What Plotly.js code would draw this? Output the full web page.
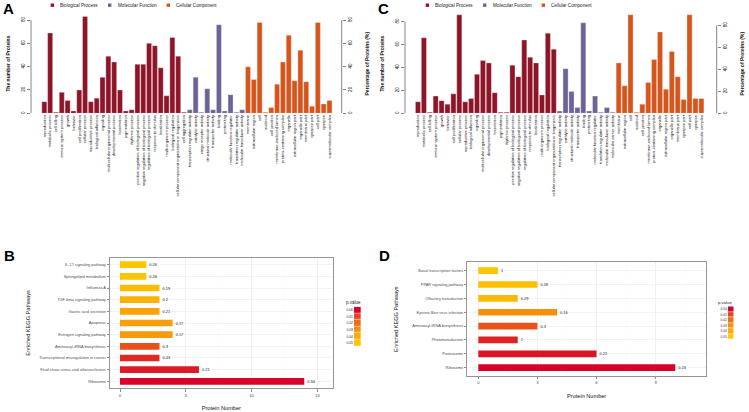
<!DOCTYPE html>
<html><head><meta charset="utf-8">
<script src="https://cdn.plot.ly/plotly-3.0.1.min.js"></script>
<style>html,body{margin:0;padding:0;background:#fff;}#chart{width:749px;height:412px;}</style>
</head><body><div id="chart"></div>
<script>
// ---------------- Panel A : GO classification ----------------
const aBPCats = ['reproduction','metabolic process','cell killing','immune system process','growth','behavior','cell proliferation','cellular process','reproductive process','biological adhesion','signaling','multicellular organismal process','developmental process','locomotion','pigmentation','rhythmic process','positive regulation of biological process','negative regulation of biological process','regulation of biological process','response to stimulus','localization','multi-organism process','biological regulation','cellular component organization or biogenesis','cell aggregation'];
const aBPVals = [10,69,1,18,11,2,20,83,10,13,31,49,44,20,2,3,42,42,60,58,39,15,65,49,1];
const aMFCats = ['transcription regulator activity','catalytic activity','cargo receptor activity','structural molecule activity','transporter activity','binding','protein tag','molecular function regulator','translation regulator activity','molecular transducer activity'];
const aMFVals = [3,31,1,21,3,76,2,16,1,3];
const aCCCats = ['membrane','extracellular region','cell','nucleoid','cell junction','membrane-enclosed lumen','protein-containing complex','organelle','extracellular region part','organelle part','membrane part','synapse part','cell part','synapse','supramolecular complex'];
const aCCVals = [40,29,78,1,5,25,44,67,28,54,27,6,78,8,11];

// ---------------- Panel C : GO classification ----------------
const cBPCats = ['reproduction','metabolic process','cell killing','immune system process','growth','behavior','cell proliferation','cellular process','reproductive process','biological adhesion','signaling','multicellular organismal process','developmental process','locomotion','pigmentation','rhythmic process','positive regulation of biological process','negative regulation of biological process','regulation of biological process','response to stimulus','localization','multi-organism process','biological regulation','cellular component organization or biogenesis'];
const cBPVals = [10,66,1,15,11,8,17,86,10,13,34,46,44,18,1,1,42,32,64,49,44,16,70,56];
const cMFCats = ['transcription regulator activity','catalytic activity','structural molecule activity','transporter activity','binding','protein tag','molecular function regulator','translation regulator activity','molecular transducer activity','molecular carrier activity'];
const cMFVals = [2,39,19,5,79,2,15,1,5,1];
const cCCCats = ['membrane','extracellular region','cell','nucleoid','cell junction','membrane-enclosed lumen','protein-containing complex','organelle','extracellular region part','organelle part','membrane part','synapse part','cell part','synapse','supramolecular complex'];
const cCCVals = [44,24,86,1,8,27,47,71,21,54,32,12,86,13,13];

const goGroups = ['Biological Process','Molecular Function','Cellular Component'];
const goTicks = [0,20,40,60,80];

// ---------------- Panel B : KEGG ----------------
const bPaths = ['IL-17 signaling pathway','Sphingolipid metabolism','Influenza A','TGF-beta signaling pathway','Gastric acid secretion','Apoptosis','Estrogen signaling pathway','Aminoacyl-tRNA biosynthesis','Transcriptional misregulation in cancer','Fluid shear stress and atherosclerosis','Ribosome'];
const bCounts = [2,2,3,3,3,4,4,3,3,6,14];
const bLabels = ['0.26','0.28','0.19','0.2','0.21','0.17','0.17','0.3','0.43','0.21','0.34'];
const bPvals = [0.049,0.049,0.046,0.042,0.037,0.035,0.033,0.013,0.006,0.004,0.0005];

// ---------------- Panel D : KEGG ----------------
const dPaths = ['Basal transcription factors','PPAR signaling pathway','Olfactory transduction','Epstein-Barr virus infection','Aminoacyl-tRNA biosynthesis','Phototransduction','Proteasome','Ribosome'];
const dCounts = [1,3,2,4,3,2,6,10];
const dLabels = ['1','0.18','0.29','0.16','0.3','1','0.22','0.24'];
const dPvals = [0.049,0.047,0.045,0.03,0.014,0.005,0.003,0.0005];

const pKeyVals = [0,0.01,0.02,0.03,0.04,0.05];
const pKeyLabels = ['0.00','0.01','0.02','0.03','0.04','0.05'];

// ---------------- styling ----------------
const W = 749, H = 412;
const px = v => v / W;
const py = v => 1 - v / H;
const FONT = 'Liberation Sans, Arial, Helvetica, sans-serif';
const COL = {bp:'#8C1529', mf:'#6B6498', cc:'#D4561D'};
const goColors = [COL.bp, COL.mf, COL.cc];
const CS = [[0,'#D6002B'],[0.2,'#E6441E'],[0.4,'#F06D15'],[0.6,'#F5900D'],[0.8,'#F9AD06'],[1,'#FCC600']];

function goBar(cats, vals, color, xa, ya, name){
  return {type:'bar', name:name, x:cats, y:vals, xaxis:xa, yaxis:ya, width:0.86,
    marker:{color:color, line:{color:'rgba(255,235,235,0.55)', width:0.6}},
    showlegend:false, hoverinfo:'skip'};
}
function dummy(xa, ya){
  return {type:'scatter', mode:'markers', x:[], y:[], xaxis:xa, yaxis:ya, showlegend:false, hoverinfo:'skip'};
}
function keggBar(paths, counts, labels, pv, xa, ya, w){
  return {type:'bar', orientation:'h', y:paths, x:counts, xaxis:xa, yaxis:ya, width:w,
    marker:{color:pv, colorscale:CS, cmin:0, cmax:0.05, showscale:false},
    text:labels, textposition:'outside', constraintext:'none', cliponaxis:false,
    textfont:{size:3.9, color:'#222', family:FONT}, showlegend:false, hoverinfo:'skip'};
}
function keyMap(xa, ya){
  return {type:'heatmap', z:pKeyVals.map(v=>[v]), x:['p'], y:pKeyLabels, xaxis:xa, yaxis:ya,
    colorscale:CS, zmin:0, zmax:0.05, showscale:false, ygap:0.6, hoverinfo:'skip'};
}

const traces = [
  goBar(aBPCats, aBPVals, COL.bp, 'x', 'y', goGroups[0]),
  goBar(aMFCats, aMFVals, COL.mf, 'x', 'y', goGroups[1]),
  goBar(aCCCats, aCCVals, COL.cc, 'x', 'y', goGroups[2]),
  dummy('x','y2'),
  goBar(cBPCats, cBPVals, COL.bp, 'x3', 'y3', goGroups[0]),
  goBar(cMFCats, cMFVals, COL.mf, 'x3', 'y3', goGroups[1]),
  goBar(cCCCats, cCCVals, COL.cc, 'x3', 'y3', goGroups[2]),
  dummy('x3','y4'),
  keggBar(bPaths, bCounts, bLabels, bPvals, 'x5', 'y5', 0.57),
  keggBar(dPaths, dCounts, dLabels, dPvals, 'x6', 'y6', 0.48),
  keyMap('x7','y7'),
  keyMap('x8','y8')
];

function goX(d0, d1, r, cats, ya){
  return {domain:[px(d0), px(d1)], anchor:ya, type:'category', categoryorder:'array', categoryarray:cats,
    range:r, showgrid:false, zeroline:false, showline:false, ticks:'', tickangle:-90,
    tickfont:{size:4, color:'#111', family:FONT}, fixedrange:true};
}
function goY(xa, r, titleText, side, over, so){
  const o = {domain:[py(113.3), py(14)], anchor:xa, type:'linear', range:r, tickvals:goTicks,
    ticks:'outside', ticklen:3.5, tickwidth:0.6, tickcolor:'#333', tickangle:-90,
    tickfont:{size:4.6, color:'#111', family:FONT}, showgrid:false, zeroline:false, showline:false,
    title:{text:'<b>'+titleText+'</b>', font:{size:5, color:'#111', family:FONT}, standoff:so}, side:side};
  if (over) o.overlaying = over;
  return o;
}
const catsA = aBPCats.concat(aMFCats, aCCCats);
const catsC = cBPCats.concat(cMFCats, cCCCats);

function keggX(d0, d1, r, tv, ya, minorD){
  return {domain:[px(d0), px(d1)], anchor:ya, range:r, tickvals:tv, ticks:'outside', ticklen:2.5, tickwidth:0.6,
    tickcolor:'#444', tickfont:{size:4.2, color:'#4D4D4D', family:FONT}, showgrid:true, gridcolor:'#EBEBEB', gridwidth:0.6,
    minor:{showgrid:true, gridcolor:'#F4F4F4', gridwidth:0.4, dtick:minorD, tick0:0},
    zeroline:false, showline:true, mirror:true, linecolor:'#8A8A8A', linewidth:0.9,
    title:{text:'Protein Number', font:{size:5.6, color:'#111', family:FONT}, standoff:9}};
}
function keggY(d0, d1, n, xa, so){
  return {domain:[py(d1), py(d0)], anchor:xa, type:'category', range:[n-1+0.6, -0.6], ticks:'outside', ticklen:2.5,
    tickwidth:0.6, tickcolor:'#444', tickfont:{size:3.9, color:'#4D4D4D', family:FONT}, showgrid:true, gridcolor:'#EBEBEB',
    gridwidth:0.6, zeroline:false, showline:true, mirror:true, linecolor:'#8A8A8A', linewidth:0.9,
    title:{text:'Enriched KEGG Pathways', font:{size:5.6, color:'#111', family:FONT}, standoff:so}};
}
function keyX(d0, d1, ya){ return {domain:[px(d0), px(d1)], anchor:ya, visible:false, fixedrange:true}; }
function keyY(d0, d1, xa, fs){
  return {domain:[py(d1), py(d0)], anchor:xa, type:'category', autorange:'reversed', ticks:'', showgrid:false,
    zeroline:false, showline:false, tickfont:{size:fs, color:'#333', family:FONT}, fixedrange:true};
}

function letter(t, x, y){
  return {text:'<b>'+t+'</b>', xref:'paper', yref:'paper', x:px(x), y:py(y), xanchor:'left', yanchor:'middle',
    showarrow:false, font:{size:15, color:'#000', family:FONT}};
}
function note(t, x, y, s){
  return {text:t, xref:'paper', yref:'paper', x:px(x), y:py(y), xanchor:'left', yanchor:'middle',
    showarrow:false, font:{size:s, color:'#222', family:FONT}};
}
function vline(x, yref, y0, y1){
  return {type:'line', xref:'paper', yref:yref, x0:px(x), x1:px(x), y0:y0, y1:y1, line:{color:'#333', width:0.6}};
}
// legend keys (group colour squares + names)
const legendSquareX = [50.7, 108, 166.7];
const legendTextX = [58, 115.7, 174];
function legendItems(offset){
  const sh = [], an = [];
  goGroups.forEach((g, i) => {
    const x0 = legendSquareX[i] + offset;
    sh.push({type:'rect', xref:'paper', yref:'paper', x0:px(x0), x1:px(x0+3.4), y0:py(6.9), y1:py(3.5),
      fillcolor:goColors[i], line:{width:0}});
    an.push(note(g, legendTextX[i] + offset, 5.2, 4.6));
  });
  return {sh, an};
}
const legA = legendItems(0), legC = legendItems(375);

const layout = {
  width:W, height:H, margin:{l:0, r:0, t:0, b:0}, paper_bgcolor:'#fff', plot_bgcolor:'rgba(0,0,0,0)',
  font:{family:FONT, color:'#222'}, barmode:'overlay', showlegend:false,
  xaxis: goX(31, 341.7, [-2.29, 51.1], catsA, 'y'),
  yaxis: goY('x', [0, 85.2], 'The number of Proteins', 'left', null, 9),
  yaxis2: goY('x', [0, 85.2], 'Percentage of Proteins (%)', 'right', 'y', 13),
  xaxis3: goX(405, 716.7, [-2.2, 50.6], catsC, 'y3'),
  yaxis3: goY('x3', [0, 86.7], 'The number of Proteins', 'left', null, 9),
  yaxis4: goY('x3', [0, 90.3], 'Percentage of Proteins (%)', 'right', 'y3', 13),
  xaxis5: keggX(110, 332.7, [-0.76, 16.16], [0,5,10,15], 'y5', 2.5),
  yaxis5: keggY(257.7, 388.3, bPaths.length, 'x5', 8),
  xaxis6: keggX(467.3, 706, [-0.56, 11.56], [0,3,6,9], 'y6', 1.5),
  yaxis6: keggY(262.3, 376, dPaths.length, 'x6', 13),
  xaxis7: keyX(354, 360.7, 'y7'),
  yaxis7: keyY(306.7, 346.3, 'x7', 3.4),
  xaxis8: keyX(727.7, 733.7, 'y8'),
  yaxis8: keyY(306.3, 339.5, 'x8', 3.2),
  shapes:[
    vline(31, 'y', 0, 80), vline(341.7, 'y2', 0, 80),
    vline(405, 'y3', 0, 80), vline(716.7, 'y4', 0, 80)
  ].concat(legA.sh, legC.sh),
  annotations:[
    letter('A', 1, 8.5), letter('C', 376, 8.5), letter('B', 2, 255.5), letter('D', 377, 255.5),
    note('p.value', 343.5, 302.3, 4.5), note('p.value', 716, 302.3, 4.3)
  ].concat(legA.an, legC.an)
};

Plotly.newPlot('chart', traces, layout, {staticPlot:true, displayModeBar:false});
</script></body></html>
